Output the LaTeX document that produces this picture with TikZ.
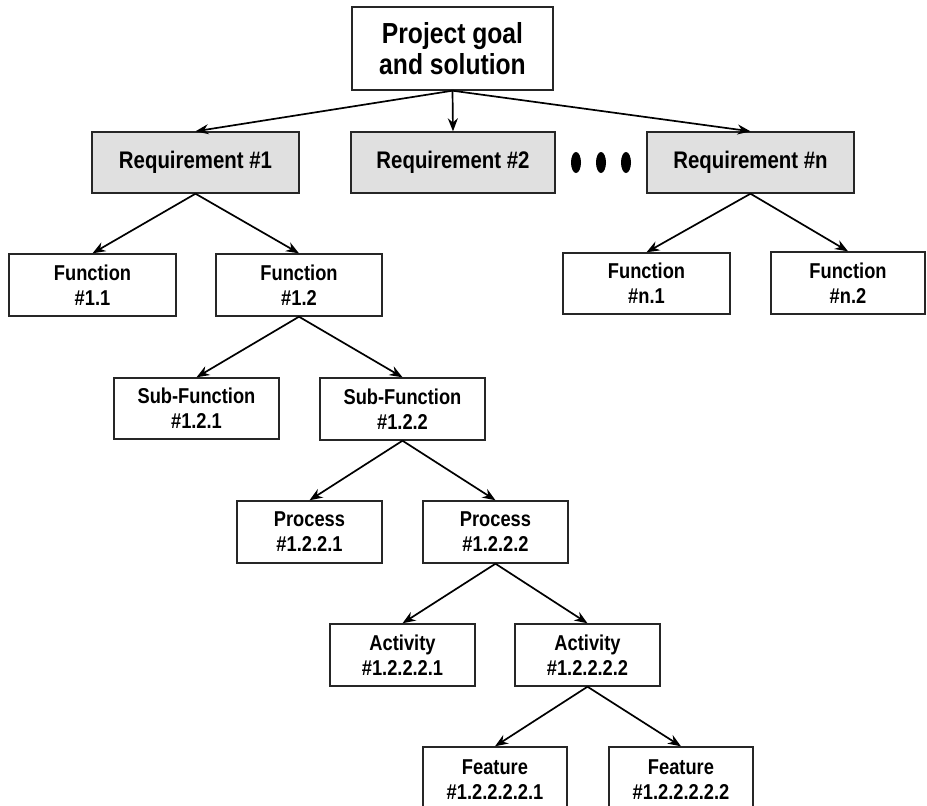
\documentclass[tikz,border=0pt]{standalone}
\usepackage{fontspec}
\setmainfont{Liberation Sans}[FakeStretch=0.85]
\usetikzlibrary{arrows.meta,shapes.geometric}
\begin{document}
\begin{tikzpicture}[x=1pt,y=-1pt,
  box/.style={draw=black!85, line width=1.4pt, fill=white, inner sep=0pt, align=center,
    font=\bfseries\fontsize{21.5}{25}\selectfont},
  req/.style={box, fill=black!12, font=\bfseries\fontsize{24}{28}\selectfont},
  topbox/.style={box, font=\bfseries\fontsize{29}{31}\selectfont},
  arr/.style={-{Stealth[length=13pt,width=10pt]}, line width=1.7pt, black},
  dotmark/.style={ellipse, fill=black, minimum width=10pt, minimum height=21pt, inner sep=0pt}]
\useasboundingbox (0,0) rectangle (927,806);
\fill[white] (0,0) rectangle (927,806);
% boxes: centre, width, height
\node[topbox, minimum width=201pt, minimum height=83pt] (top) at (452.5,48.5) {Project goal\\and solution};
\node[req, minimum width=207pt, minimum height=61pt] (r1) at (195.5,162.5) {Requirement \#1};
\node[req, minimum width=204pt, minimum height=61pt] (r2) at (453,162.5) {Requirement \#2};
\node[req, minimum width=207pt, minimum height=61pt] (rn) at (750.5,162.5) {Requirement \#n};
\node[dotmark] (d1) at (576,162.5) {};
\node[dotmark] (d2) at (601,162.5) {};
\node[dotmark] (d3) at (626,162.5) {};
\node[box, minimum width=167pt, minimum height=62pt] (f11) at (92.5,285) {Function\\\#1.1};
\node[box, minimum width=166pt, minimum height=62pt] (f12) at (299,285) {Function\\\#1.2};
\node[box, minimum width=167pt, minimum height=61pt] (fn1) at (646.5,283.5) {Function\\\#n.1};
\node[box, minimum width=154pt, minimum height=62pt] (fn2) at (848,283) {Function\\\#n.2};
\node[box, minimum width=165pt, minimum height=61pt] (s1) at (196.5,408.5) {Sub-Function\\\#1.2.1};
\node[box, minimum width=165pt, minimum height=62pt] (s2) at (402.5,409) {Sub-Function\\\#1.2.2};
\node[box, minimum width=145pt, minimum height=62pt] (p1) at (309.5,532) {Process\\\#1.2.2.1};
\node[box, minimum width=145pt, minimum height=62pt] (p2) at (495.5,532) {Process\\\#1.2.2.2};
\node[box, minimum width=145pt, minimum height=62pt] (a1) at (402.5,655) {Activity\\\#1.2.2.2.1};
\node[box, minimum width=145pt, minimum height=62pt] (a2) at (587.5,655) {Activity\\\#1.2.2.2.2};
\node[box, minimum width=144pt, minimum height=66pt, text depth=0pt] (e1) at (495,780) {Feature\\\#1.2.2.2.2.1};
\node[box, minimum width=144pt, minimum height=66pt, text depth=0pt] (e2) at (681,780) {Feature\\\#1.2.2.2.2.2};
% connectors
\draw[arr] (top.south) -- (r1.north);
\draw[arr] (top.south) -- (r2.north);
\draw[arr] (top.south) -- (rn.north);
\draw[arr] (r1.south) -- (f11.north);
\draw[arr] (r1.south) -- (f12.north);
\draw[arr] (rn.south) -- (fn1.north);
\draw[arr] (rn.south) -- (fn2.north);
\draw[arr] (f12.south) -- (s1.north);
\draw[arr] (f12.south) -- (s2.north);
\draw[arr] (s2.south) -- (p1.north);
\draw[arr] (s2.south) -- (p2.north);
\draw[arr] (p2.south) -- (a1.north);
\draw[arr] (p2.south) -- (a2.north);
\draw[arr] (a2.south) -- (e1.north);
\draw[arr] (a2.south) -- (e2.north);
\end{tikzpicture}
\end{document}
